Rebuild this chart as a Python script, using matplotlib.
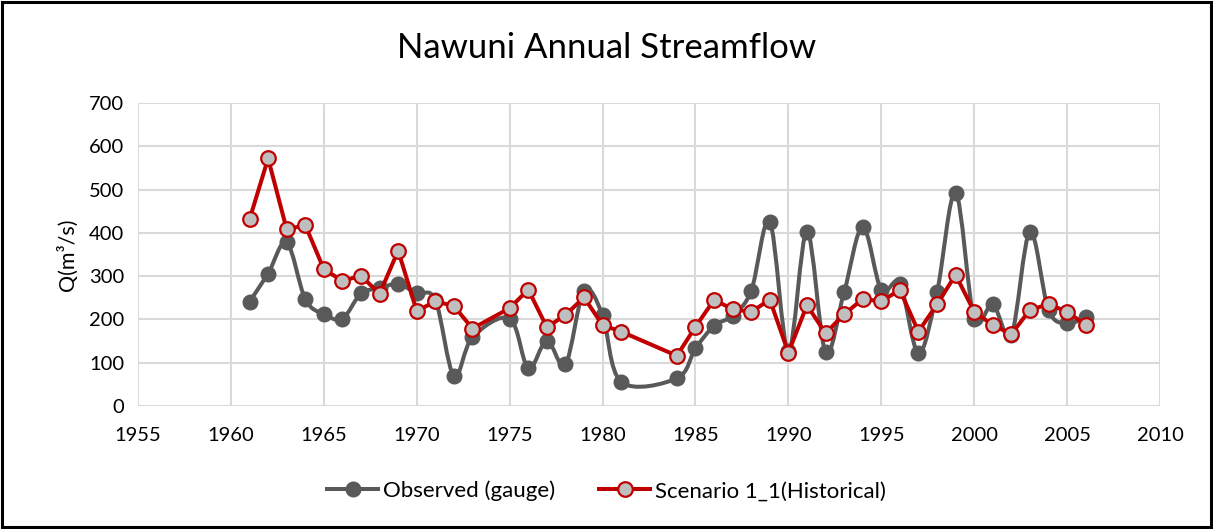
import numpy as np
import matplotlib
matplotlib.use('Agg')
import matplotlib.pyplot as plt
from matplotlib.path import Path
from matplotlib.patches import PathPatch, Rectangle
from matplotlib.lines import Line2D

plt.rcParams['font.family'] = ['Lato', 'DejaVu Sans']

# Jaren met gegevens (1974, 1982 en 1983 ontbreken)
jaren = [1961, 1962, 1963, 1964, 1965, 1966, 1967, 1968, 1969, 1970, 1971, 1972, 1973,
         1975, 1976, 1977, 1978, 1979, 1980, 1981,
         1984, 1985, 1986, 1987, 1988, 1989, 1990, 1991, 1992, 1993, 1994, 1995,
         1996, 1997, 1998, 1999, 2000, 2001, 2002, 2003, 2004, 2005, 2006]

observed = [241, 306, 378, 247, 212, 202, 260, 272, 282, 260, 245, 69, 159,
            202, 87, 151, 96, 266, 210, 56,
            64, 133, 185, 209, 266, 426, 126, 403, 125, 263, 414, 268,
            283, 122, 263, 493, 202, 235, 164, 403, 222, 191, 205]

scenario = [431, 572, 408, 418, 316, 289, 301, 259, 359, 219, 242, 231, 179,
            226, 269, 182, 210, 251, 187, 172,
            116, 183, 245, 224, 217, 246, 123, 233, 168, 212, 247, 242,
            268, 172, 235, 303, 218, 187, 166, 222, 235, 218, 187]

x_ticks = list(range(1955, 2011, 5))
y_ticks = list(range(0, 701, 100))

kleur_obs = '#595959'
kleur_scen = '#C00000'
kleur_grid = '#D9D9D9'


def gladde_lijn(x, y):
    # Excel-achtige smoothing: bezier door de punten
    pts = np.column_stack([x, y]).astype(float)
    p = np.vstack([pts[0], pts, pts[-1]])
    verts = [pts[0]]
    codes = [Path.MOVETO]
    for i in range(1, len(p) - 2):
        p0, p1, p2, p3 = p[i - 1], p[i], p[i + 1], p[i + 2]
        c1 = p1 + (p2 - p0) / 6.0
        c2 = p2 - (p3 - p1) / 6.0
        verts += [c1, c2, p2]
        codes += [Path.CURVE4] * 3
    return Path(verts, codes)


fig = plt.figure(figsize=(12.13, 5.29), dpi=100)
ax = fig.add_axes([0.1138, 0.2325, 0.8425, 0.5728])

ax.set_xlim(1955, 2010)
ax.set_ylim(0, 700)
ax.set_xticks(x_ticks)
ax.set_yticks(y_ticks)
ax.grid(True, color=kleur_grid, linewidth=1.5)
ax.set_axisbelow(True)
for s in ax.spines.values():
    s.set_visible(False)
ax.tick_params(length=0, labelsize=14.5, colors='black', pad=10)
ax.tick_params(axis='x', pad=15)

# Observed: gladde lijn + markers
ax.add_patch(PathPatch(gladde_lijn(jaren, observed), fill=False, edgecolor=kleur_obs,
                       linewidth=2.9, capstyle='round', joinstyle='round', zorder=3))
ax.plot(jaren, observed, linestyle='none', marker='o', markersize=10.5,
        color=kleur_obs, zorder=4, clip_on=False)

# Scenario: rechte lijnen
ax.plot(jaren, scenario, color=kleur_scen, linewidth=2.9, marker='o', markersize=10.5,
        markerfacecolor='#BFBFBF', markeredgecolor=kleur_scen, markeredgewidth=1.6,
        zorder=5, clip_on=False)

ax.set_ylabel('Q(m³/s)', fontsize=15.5, labelpad=8)
fig.text(0.5, 0.909, 'Nawuni Annual Streamflow', fontsize=25, ha='center', va='center')

handles = [
    Line2D([], [], color=kleur_obs, linewidth=2.9, marker='o', markersize=10.5),
    Line2D([], [], color=kleur_scen, linewidth=2.9, marker='o', markersize=10.5,
           markerfacecolor='#BFBFBF', markeredgecolor=kleur_scen, markeredgewidth=1.6),
]
fig.legend(handles, ['Observed (gauge)', 'Scenario 1_1(Historical)'],
           loc='center', bbox_to_anchor=(0.5, 0.072), ncol=2, frameon=False,
           fontsize=16, handlelength=2.3, handletextpad=0.2, columnspacing=2.0)

# zwarte rand rond de figuur
fig.patches.append(Rectangle((0.002, 0.004), 0.996, 0.992, transform=fig.transFigure,
                             fill=False, edgecolor='black', linewidth=2.2))

plt.savefig('out.png', dpi=100)
